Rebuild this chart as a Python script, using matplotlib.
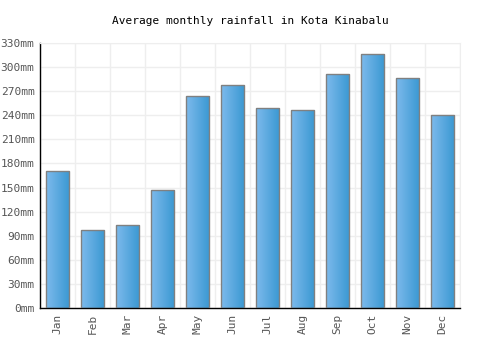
import matplotlib
matplotlib.use("Agg")
import matplotlib.pyplot as plt
import numpy as np

months = ["Jan", "Feb", "Mar", "Apr", "May", "Jun", "Jul", "Aug", "Sep", "Oct", "Nov", "Dec"]
rainfall = [171, 97, 103, 147, 264, 278, 249, 246, 291, 316, 287, 240]
y_ticks = list(range(0, 331, 30))

plt.rcParams['font.family'] = ['DejaVu Sans Mono']

fig = plt.figure(figsize=(5, 3.5), dpi=100)
ax = fig.add_axes([0.08, 0.12, 0.84, 0.757])

x = np.arange(len(months))
bars = ax.bar(x, rainfall, width=0.66, color='none', edgecolor='#808080', linewidth=1, zorder=3)

# horizontal gradient inside each bar
grad = np.linspace(0, 1, 64).reshape(1, -1)
cmap = matplotlib.colors.LinearSegmentedColormap.from_list('b', ['#7dbaec', '#3a98d2'])
for b in bars:
    x0, y0 = b.get_x(), b.get_y()
    im = ax.imshow(grad, cmap=cmap, aspect='auto', extent=[x0, x0 + b.get_width(), y0, y0 + b.get_height()],
                   zorder=2)
    im.set_clip_path(b)

ax.set_xlim(-0.5, len(months) - 0.5)
ax.set_ylim(0, 330)
ax.set_yticks(y_ticks)
ax.set_yticklabels([f"{v}mm" for v in y_ticks])
ax.set_xticks(x)
ax.set_xticklabels(months, rotation=90)
ax.set_xticks(np.arange(-0.5, len(months), 1), minor=True)

ax.grid(True, which='major', axis='y', color='#eeeeee', linewidth=1, zorder=0)
ax.grid(True, which='minor', axis='x', color='#eeeeee', linewidth=1, zorder=0)
ax.tick_params(axis='both', which='both', length=0, labelsize=8, colors='#555555', pad=4)

for s in ['top', 'right']:
    ax.spines[s].set_color('#eeeeee')
for s in ['left', 'bottom']:
    ax.spines[s].set_color('black')
    ax.spines[s].set_linewidth(1)

ax.set_title("Average monthly rainfall in Kota Kinabalu", fontsize=8, pad=14)

fig.savefig("out.png", dpi=100)
